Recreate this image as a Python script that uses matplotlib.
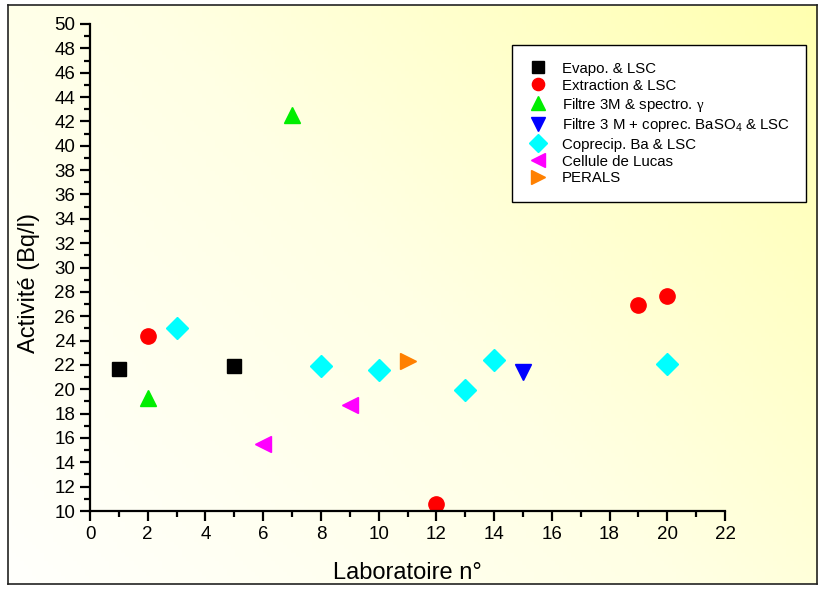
import numpy as np
import matplotlib
matplotlib.use("Agg")
import matplotlib.pyplot as plt
from matplotlib.colors import LinearSegmentedColormap

plt.rcParams['font.family'] = ['Liberation Sans', 'DejaVu Sans']
plt.rcParams['mathtext.fontset'] = 'custom'
plt.rcParams['mathtext.rm'] = 'Liberation Sans'
plt.rcParams['mathtext.it'] = 'Liberation Serif'

# data
evapo_x = [1, 5]
evapo_y = [21.7, 21.9]
extraction_x = [2, 12, 19, 20]
extraction_y = [24.4, 10.6, 26.9, 27.7]
filtre_x = [2, 7]
filtre_y = [19.3, 42.5]
filtre_ba_x = [15]
filtre_ba_y = [21.4]
coprecip_x = [3, 8, 10, 13, 14, 20]
coprecip_y = [25.0, 21.9, 21.6, 19.9, 22.4, 22.1]
lucas_x = [6, 9]
lucas_y = [15.5, 18.7]
perals_x = [11]
perals_y = [22.3]

W, H = 821, 592
fig = plt.figure(figsize=(W / 100, H / 100), dpi=100)

# background gradient inside the frame
bg = fig.add_axes([8 / W, 8 / H, 809 / W, 579 / H], zorder=-10)
nx, ny = 200, 150
gx, gy = np.meshgrid(np.linspace(0, 1, nx), np.linspace(0, 1, ny))
grad = (gx * 0.6 + gy * 0.4)
cmap = LinearSegmentedColormap.from_list("bg", ["#fffffc", "#ffffe4", "#ffffb0"])
bg.imshow(grad, cmap=cmap, origin="lower", aspect="auto", extent=[0, 1, 0, 1])
bg.set_xticks([])
bg.set_yticks([])
for s in bg.spines.values():
    s.set_linewidth(1.2)
    s.set_color("#222222")

ax = fig.add_axes([90 / W, (H - 511) / H, 635 / W, 487 / H])
ax.patch.set_alpha(0)

ax.plot(evapo_x, evapo_y, 's', color='black', ms=10, ls='none', label='Evapo. & LSC')
ax.plot(extraction_x, extraction_y, 'o', color='#ff0000', ms=11, ls='none', label='Extraction & LSC')
ax.plot(filtre_x, filtre_y, '^', color='#00ee00', ms=12, ls='none', label=r'Filtre 3M & spectro. $\gamma$')
ax.plot(filtre_ba_x, filtre_ba_y, 'v', color='#0000ff', ms=12, ls='none',
        label=r'Filtre 3 M + coprec. BaSO$_4$ & LSC')
ax.plot(coprecip_x, coprecip_y, 'D', color='#00ffff', ms=11, ls='none', label='Coprecip. Ba & LSC')
ax.plot(lucas_x, lucas_y, '<', color='#ff00ff', ms=12, ls='none', label='Cellule de Lucas')
ax.plot(perals_x, perals_y, '>', color='#ff8000', ms=12, ls='none', label='PERALS')

ax.set_xlim(0, 22)
ax.set_ylim(10, 50)
ax.set_xticks(np.arange(0, 23, 2))
ax.set_xticks(np.arange(0, 23, 1), minor=True)
ax.set_yticks(np.arange(10, 51, 2))
ax.set_yticks(np.arange(10, 51, 1), minor=True)
ax.spines['top'].set_visible(False)
ax.spines['right'].set_visible(False)
ax.spines['left'].set_linewidth(1.6)
ax.spines['bottom'].set_linewidth(1.6)
ax.tick_params(which='major', direction='out', length=7, width=1.6, labelsize=13.5)
ax.tick_params(which='minor', direction='out', length=4, width=1.6)
ax.set_xlabel('Laboratoire n°', fontsize=17, labelpad=14)
ax.set_ylabel('Activité (Bq/l)', fontsize=17)
ax.yaxis.set_label_coords(-0.078, 0.468)

leg = ax.legend(loc='upper left', bbox_to_anchor=(512 / W, 1 - 45 / H),
                bbox_transform=fig.transFigure, fontsize=10.8, frameon=True,
                fancybox=False, edgecolor='black', facecolor='white',
                framealpha=1, numpoints=1, markerscale=0.8, borderaxespad=0,
                borderpad=1.1, labelspacing=0.2, handlelength=1.2,
                handletextpad=1.0)
leg.get_frame().set_linewidth(1.0)

fig.savefig("out.png", dpi=100)
